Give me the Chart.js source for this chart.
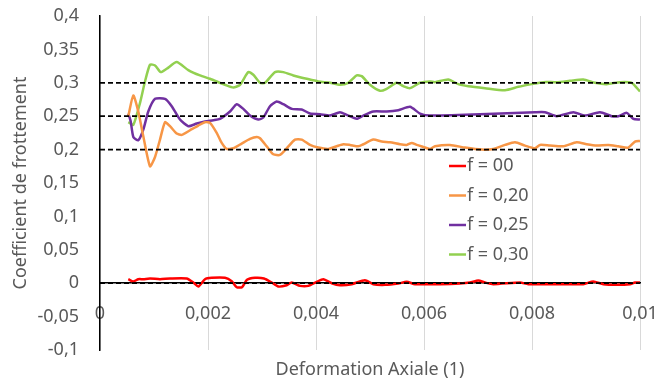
<!DOCTYPE html>
<html>
<head>
<meta charset="utf-8">
<script src="https://cdn.jsdelivr.net/npm/chart.js@4"></script>
<style>
html, body { margin: 0; padding: 0; background: #fff; }
#wrap { width: 666px; height: 380px; }
</style>
</head>
<body>
<div id="wrap"><canvas id="coef"></canvas></div>
<script>
// x values are in thousandths of axial strain (multiplied by 1e-3 below)
var xRed = [0.524,0.617,0.709,0.802,0.926,1.111,1.296,1.606,1.728,1.820,1.944,2.069,2.315,2.439,2.531,2.630,2.722,2.870,3.037,3.180,3.302,3.457,3.550,3.704,3.858,4.013,4.135,4.291,4.444,4.661,4.907,5.061,5.278,5.524,5.680,5.833,6.296,6.667,6.852,7.006,7.130,7.283,7.778,7.931,8.519,8.950,9.135,9.320,9.568,9.815,9.907,10.0];
var yRed = [0.006,0.0025,0.006,0.006,0.007,0.006,0.007,0.007,0.001,-0.005,0.006,0.008,0.008,0.003,-0.006,-0.006,0.005,0.008,0.007,0.001,-0.005,-0.003,0.001,-0.004,-0.004,0.002,0.006,0,-0.003,-0.0015,0.0045,-0.0015,-0.0025,-0.0005,0.002,-0.0015,-0.0015,-0.0005,0.001,0.004,0.001,-0.0015,0.001,-0.0015,-0.0015,-0.0015,0.0025,-0.0015,-0.0025,-0.0015,0.001,0.001];

var xOrange = [0.524,0.617,0.709,0.802,0.926,1.019,1.111,1.204,1.296,1.420,1.513,1.667,1.820,1.944,2.037,2.161,2.254,2.346,2.469,2.624,2.778,2.902,2.963,3.087,3.209,3.333,3.457,3.611,3.735,3.889,4.043,4.228,4.383,4.506,4.630,4.783,4.876,5.061,5.217,5.370,5.556,5.680,5.772,5.865,5.987,6.111,6.204,6.481,6.759,7.069,7.283,7.500,7.685,7.870,8.056,8.148,8.333,8.580,8.828,9.013,9.198,9.413,9.598,9.783,9.907,10.0];
var yOrange = [0.250,0.281,0.257,0.220,0.175,0.189,0.215,0.241,0.235,0.224,0.222,0.229,0.236,0.241,0.240,0.225,0.210,0.201,0.202,0.209,0.216,0.219,0.217,0.205,0.193,0.192,0.202,0.215,0.215,0.207,0.203,0.201,0.205,0.208,0.207,0.205,0.208,0.215,0.212,0.211,0.208,0.207,0.210,0.207,0.204,0.201,0.205,0.207,0.203,0.200,0.201,0.207,0.211,0.206,0.202,0.207,0.206,0.205,0.211,0.208,0.206,0.207,0.205,0.203,0.212,0.213];

var xPurple = [0.524,0.569,0.617,0.709,0.802,0.894,1.019,1.204,1.328,1.481,1.635,1.791,1.944,2.098,2.222,2.407,2.531,2.654,2.778,2.931,3.024,3.148,3.272,3.394,3.550,3.735,3.889,4.074,4.259,4.444,4.569,4.754,4.876,5.061,5.309,5.524,5.741,5.926,6.111,7.037,8.056,8.241,8.457,8.765,8.981,9.259,9.476,9.598,9.754,9.877,10.0];
var yPurple = [0.254,0.242,0.219,0.214,0.230,0.257,0.276,0.276,0.265,0.245,0.235,0.239,0.242,0.244,0.246,0.257,0.268,0.261,0.251,0.245,0.248,0.265,0.272,0.268,0.261,0.260,0.254,0.253,0.251,0.256,0.252,0.246,0.251,0.257,0.257,0.259,0.264,0.254,0.251,0.253,0.256,0.256,0.250,0.256,0.251,0.256,0.250,0.250,0.255,0.246,0.245];

var xGreen = [0.524,0.617,0.741,0.833,0.926,1.019,1.124,1.235,1.420,1.635,1.852,2.037,2.222,2.315,2.469,2.593,2.746,2.839,2.963,3.056,3.241,3.394,3.580,3.828,4.043,4.259,4.444,4.598,4.754,4.846,5.000,5.185,5.309,5.494,5.617,5.741,5.926,6.111,6.204,6.450,6.635,6.820,7.130,7.500,7.746,7.994,8.209,8.457,8.704,8.950,9.167,9.383,9.630,9.846,10.0];
var yGreen = [0.241,0.237,0.270,0.302,0.327,0.326,0.316,0.321,0.331,0.319,0.311,0.306,0.300,0.297,0.293,0.297,0.316,0.312,0.300,0.300,0.316,0.316,0.311,0.306,0.302,0.300,0.297,0.300,0.311,0.310,0.297,0.288,0.291,0.300,0.295,0.292,0.300,0.302,0.301,0.305,0.298,0.295,0.292,0.289,0.294,0.298,0.301,0.301,0.303,0.305,0.300,0.298,0.301,0.300,0.287];

var seriesLabels = ['f = 00', 'f = 0,20', 'f = 0,25', 'f = 0,30'];
var seriesColors = ['#ff0000', '#f79646', '#7030a0', '#92d050'];
var refLevels = [0.3, 0.25, 0.2, 0];
var xRange = [0, 0.01];

function pts(xs, ys) {
    return xs.map(function (x, i) { return { x: x * 1e-3, y: ys[i] }; });
}

function fmt(v, d) {
    return String(+v.toFixed(d)).replace('.', ',');
}

var seriesData = [pts(xRed, yRed), pts(xOrange, yOrange), pts(xPurple, yPurple), pts(xGreen, yGreen)];

var datasets = seriesData.map(function (d, i) {
    return {
        label: seriesLabels[i],
        data: d,
        borderColor: seriesColors[i],
        backgroundColor: seriesColors[i],
        borderWidth: 2.5,
        pointRadius: 0,
        tension: 0.2,
        fill: false
    };
});

refLevels.forEach(function (lvl) {
    datasets.push({
        label: 'ref ' + lvl,
        isRef: true,
        data: [{ x: xRange[0], y: lvl }, { x: xRange[1], y: lvl }],
        borderColor: '#000000',
        borderWidth: 1.75,
        borderDash: [5, 3],
        pointRadius: 0,
        order: -1
    });
});

// legend drawn inside the plot, like the spreadsheet original
var insideLegend = {
    id: 'insideLegend',
    afterDatasetsDraw: function (chart) {
        var ctx = chart.ctx, a = chart.chartArea;
        var items = chart.data.datasets.filter(function (d) { return !d.isRef; });
        ctx.save();
        ctx.font = "18px 'Noto Sans'";
        ctx.fillStyle = '#595959';
        ctx.textBaseline = 'middle';
        ctx.textAlign = 'left';
        items.forEach(function (d, i) {
            var x = a.left + 349;
            var y = a.top + 150 + i * 29.5;
            ctx.strokeStyle = d.borderColor;
            ctx.lineWidth = 2.5;
            ctx.beginPath();
            ctx.moveTo(x, y);
            ctx.lineTo(x + 17, y);
            ctx.stroke();
            ctx.fillText(d.label, x + 18, y);
        });
        ctx.restore();
    }
};

Chart.defaults.font.family = "'Noto Sans', sans-serif";
Chart.defaults.font.size = 18;
Chart.defaults.color = '#595959';

var ctx = document.getElementById('coef').getContext('2d');
var myChart = new Chart(ctx, {
    type: 'line',
    data: { datasets: datasets },
    plugins: [insideLegend],
    options: {
        responsive: true,
        maintainAspectRatio: false,
        animation: false,
        layout: { padding: { top: 16, right: 26, bottom: 30, left: 0 } },
        plugins: {
            legend: { display: false },
            tooltip: { enabled: false }
        },
        scales: {
            x: {
                type: 'linear',
                position: { y: 0 },
                min: xRange[0],
                max: xRange[1],
                ticks: {
                    stepSize: 0.002,
                    padding: 20,
                    maxRotation: 0,
                    autoSkip: false,
                    callback: function (v) { return fmt(v, 4); }
                },
                grid: { color: '#d9d9d9', drawTicks: false },
                border: { color: '#000000', width: 1.5 },
                title: {
                    display: true,
                    text: 'Deformation Axiale (1)',
                    padding: { top: 14, bottom: 0 }
                },
                afterFit: function (s) { s.paddingLeft = 0; s.paddingRight = 0; }
            },
            y: {
                min: -0.1,
                max: 0.4,
                ticks: {
                    stepSize: 0.05,
                    padding: 21,
                    callback: function (v) { return fmt(v, 3); }
                },
                grid: { display: false, drawTicks: false },
                border: { color: '#000000', width: 1.5 },
                title: {
                    display: true,
                    text: 'Coefficient de frottement',
                    padding: { top: 10, bottom: 0 }
                },
                afterFit: function (s) {
                    s.width = 100;
                    s.paddingTop = 0;
                    s.paddingBottom = 0;
                }
            }
        }
    }
});
</script>
</body>
</html>
